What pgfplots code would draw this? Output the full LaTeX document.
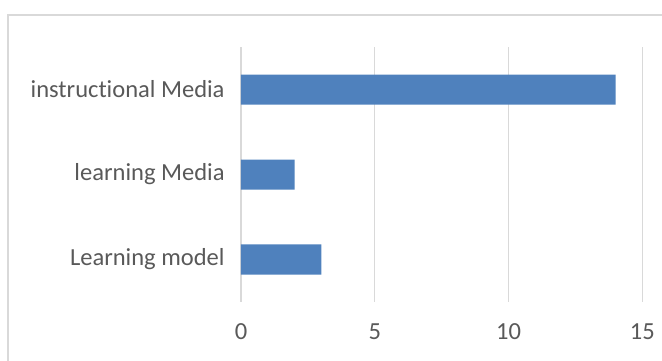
\documentclass[border=0pt]{standalone}
\usepackage{pgfplots}
\pgfplotsset{compat=1.18}
\usepackage{fontspec}
\setmainfont{Carlito}[Ligatures=NoCommon]
\definecolor{barblue}{HTML}{4F81BD}
\definecolor{gridgray}{HTML}{D9D9D9}
\definecolor{labelgray}{HTML}{595959}
\begin{document}
\begin{tikzpicture}[x=0.75pt,y=0.75pt]
\useasboundingbox (0,0) rectangle (662,361);
\draw[gridgray, line width=1.2pt] (8,-10) -- (8,346) -- (680,346);
\begin{axis}[
  at={(241*0.75pt,59*0.75pt)}, anchor=south west,
  scale only axis,
  width=301pt, height=191.25pt,
  xbar, bar width=22.5pt,
  xmin=0, xmax=15, ymin=-0.5, ymax=2.5,
  xtick={0,5,10,15},
  ytick={0,1,2},
  yticklabels={Learning model, learning Media, instructional Media},
  xmajorgrids, major grid style={gridgray, line width=0.9pt},
  axis line style={draw=none},
  tick style={draw=none},
  tick label style={font=\fontsize{18.4}{21}\selectfont, text=labelgray},
  /pgf/number format/assume math mode=true,
  yticklabel style={xshift=-4.5pt},
  xticklabel style={yshift=-12.5pt},
]
\addplot[fill=barblue, draw=none] coordinates {(3,0) (2,1) (14,2)};
\end{axis}
\end{tikzpicture}
\end{document}
